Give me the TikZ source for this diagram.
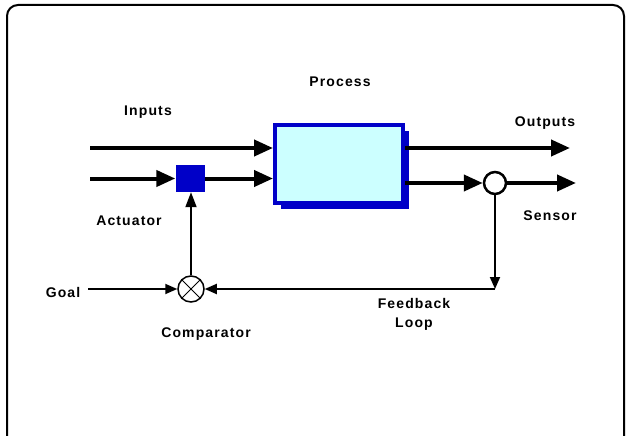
\documentclass[tikz,border=0pt]{standalone}
\usepackage{fontspec}
\setmainfont{Liberation Sans}[LetterSpace=8]
\usetikzlibrary{arrows.meta,shadows}
\definecolor{procblue}{RGB}{0,0,200}
\definecolor{proccyan}{RGB}{204,255,255}
\begin{document}
\begin{tikzpicture}[x=1pt,y=-1pt,font=\bfseries\fontsize{14}{19}\selectfont,
	sig/.style={line width=4pt,-{Triangle[length=19pt,width=16pt]}},
	fbline/.style={line width=1.8pt,-{Triangle[length=12pt,width=10pt]}}]
	\useasboundingbox (0,0) rectangle (632,436);
	\draw[line width=2pt,rounded corners=11pt] (7,440) -- (7,5) -- (624,5) -- (624,440);
	\node[draw=procblue,line width=4pt,fill=proccyan,minimum width=128pt,minimum height=78pt,
		drop shadow={shadow xshift=6pt,shadow yshift=-6pt,fill=procblue,opacity=1}] (process) at (339,164) {};
	\node[fill=procblue,minimum width=29pt,minimum height=27pt,inner sep=0pt] (act) at (190,178.5) {};
	\node[circle,draw,line width=2.5pt,minimum size=22pt,inner sep=0pt] (sensor) at (495,183) {};
	\node[circle,draw,line width=1.5pt,minimum size=26pt,inner sep=0pt] (comp) at (191,289) {};
	\draw[line width=1pt] (comp.north west) -- (comp.south east);
	\draw[line width=1pt] (comp.north east) -- (comp.south west);
	\coordinate (in1) at (90,148);
	\coordinate (in2) at (90,178.5);
	\coordinate (out1) at (570,148);
	\coordinate (out2) at (576,183);
	\coordinate (goal) at (88,289);
	\coordinate (fbcorner) at (495,289);
	\draw[sig] (in1) -- (in1 -| process.west);
	\draw[sig] (in2) -- (act.west);
	\draw[sig] (act.east) -- (act.east -| process.west);
	\draw[sig] (process.east |- out1) -- (out1);
	\draw[sig] (process.east |- sensor) -- (sensor.west);
	\draw[sig] (sensor.east) -- (out2);
	\draw[fbline] (sensor.south) -- (fbcorner);
	\draw[fbline] (fbcorner) -- (comp.east);
	\draw[fbline] (goal) -- (comp.west);
	\draw[line width=1.8pt,-{Triangle[length=15pt,width=11pt]}] (comp.north) -- (comp.north |- act.south);
	\node (proclbl) at (340,82) {Process};
	\node (inlbl) at (148,112) {Inputs};
	\node (outlbl) at (545,123) {Outputs};
	\node (actlbl) at (129,221) {Actuator};
	\node (senslbl) at (550,216) {Sensor};
	\node (goallbl) at (63,292) {Goal};
	\node (complbl) at (206,334) {Comparator};
	\node[align=center] (fblbl) at (414,314) {Feedback\\Loop};
\end{tikzpicture}
\end{document}
